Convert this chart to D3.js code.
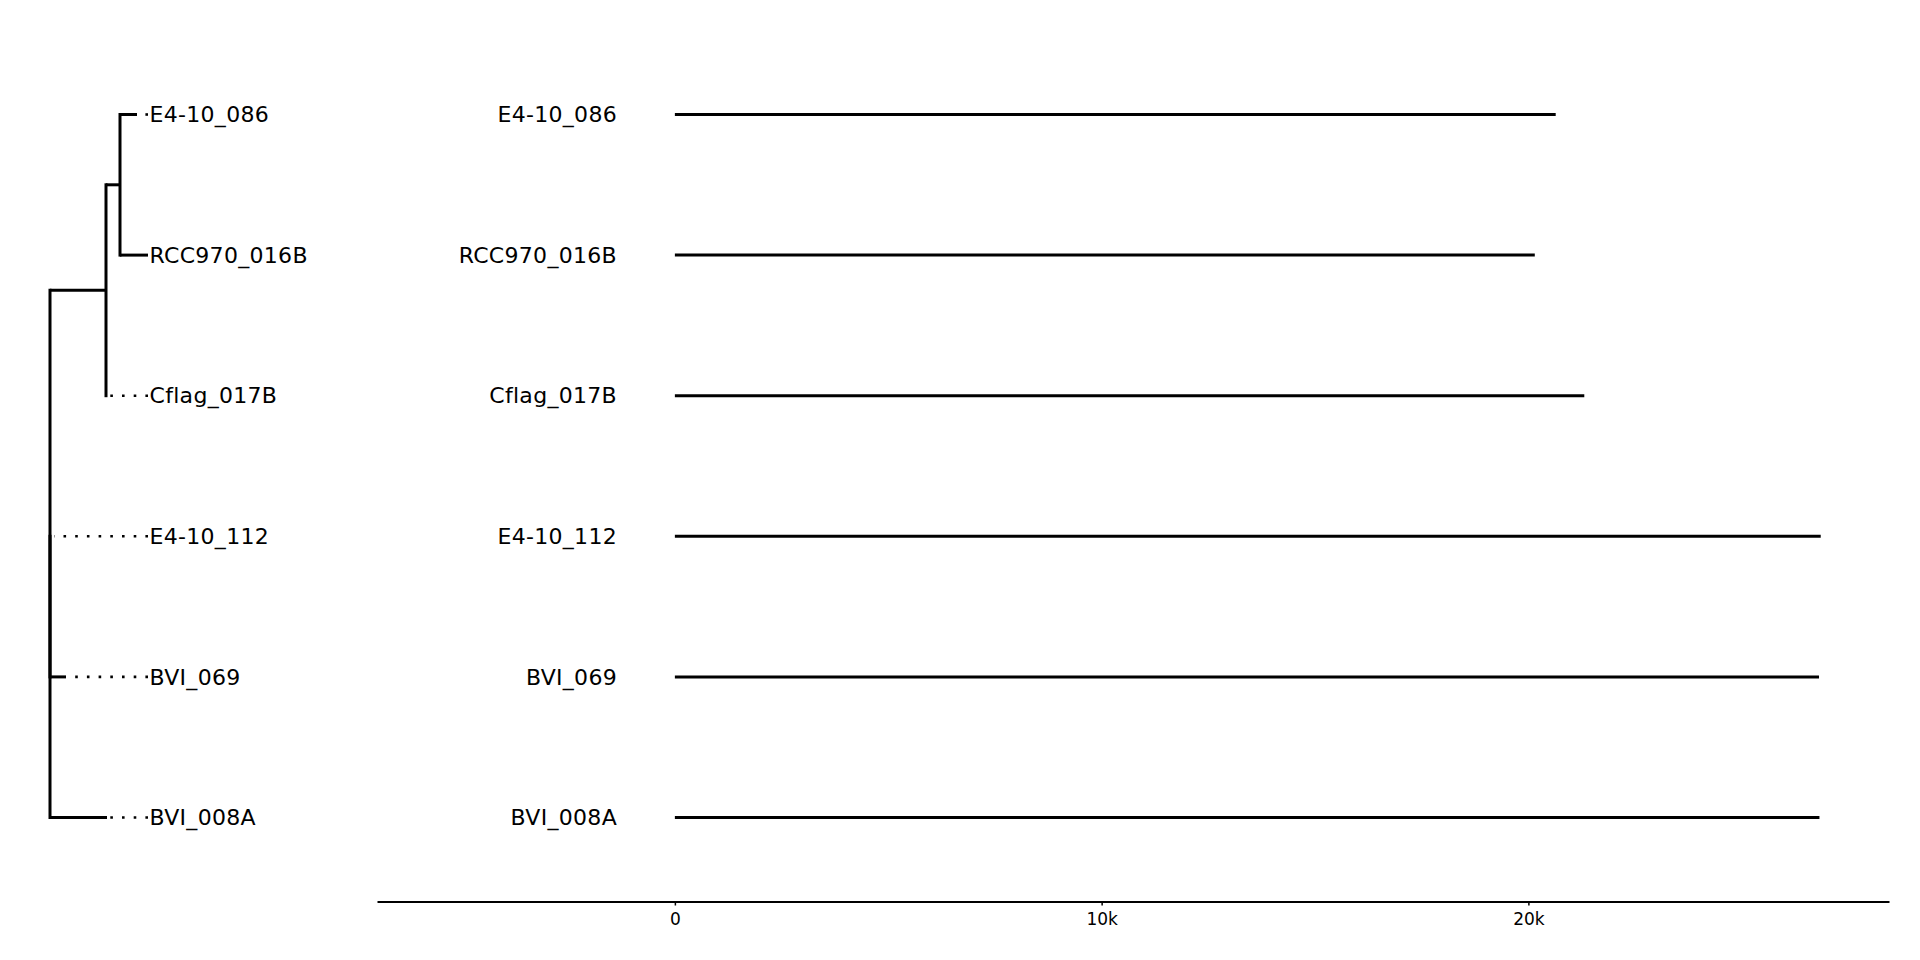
<!DOCTYPE html>
<html>
<head>
<meta charset="utf-8">
<script src="https://cdn.jsdelivr.net/npm/d3@7"></script>
<style>
  html, body { margin: 0; padding: 0; background: #fff; }
  svg { display: block; }
  text { font-family: "DejaVu Sans", sans-serif; fill: #000; }
</style>
</head>
<body>
<svg id="chart" width="1920" height="960"></svg>
<script>
// ---- data ----
const leafNames = ["E4-10_086", "RCC970_016B", "Cflag_017B", "E4-10_112", "BVI_069", "BVI_008A"];
const lengthValues = [20640, 20150, 21310, 26850, 26810, 26820];
const tickValues = [0, 10000, 20000];
const tickLabels = ["0", "10k", "20k"];
const newick = "(((E4-10_086:0.017,RCC970_016B:0.028):0.014,Cflag_017B:0.0):0.056,(E4-10_112:0.001,BVI_069:0.016):0.0,BVI_008A:0.057);";

// ---- newick parser ----
function parseNewick(s) {
  let i = 0;
  function node() {
    const n = { children: [] };
    if (s[i] === "(") {
      i++;
      n.children.push(node());
      while (s[i] === ",") { i++; n.children.push(node()); }
      i++; // ')'
    }
    let name = "";
    while (i < s.length && !",():;".includes(s[i])) name += s[i++];
    n.name = name;
    n.length = 0;
    if (s[i] === ":") {
      i++;
      let num = "";
      while (i < s.length && !",();".includes(s[i])) num += s[i++];
      n.length = +num;
    }
    if (!n.children.length) delete n.children;
    return n;
  }
  return node();
}

const svg = d3.select("#chart");
const root = d3.hierarchy(parseNewick(newick));
root.eachBefore(d => { d.depth_len = d.parent ? d.parent.depth_len + d.data.length : 0; });
const maxDepth = d3.max(root.leaves(), d => d.depth_len);

// ---- scales ----
const yScale = d3.scalePoint().domain(leafNames).range([114.5, 817.5]);
const treeX = d3.scaleLinear().domain([0, maxDepth]).range([50, 148]);
const xScale = d3.scaleLinear().domain([-6980, 28450]).range([377, 1889]);

root.eachAfter(d => {
  if (d.children) d.yy = (d.children[0].yy + d.children[d.children.length - 1].yy) / 2;
  else d.yy = yScale(d.data.name);
  d.xx = treeX(d.depth_len);
});

// ---- tree ----
const gTree = svg.append("g");
const stroke = "#000";
gTree.selectAll("line.v").data(root.descendants().filter(d => d.children)).join("line")
  .attr("x1", d => d.xx).attr("x2", d => d.xx)
  .attr("y1", d => d.children[0].yy).attr("y2", d => d.children[d.children.length - 1].yy)
  .attr("stroke", stroke).attr("stroke-width", 3).attr("stroke-linecap", "square");
gTree.selectAll("line.h").data(root.descendants().filter(d => d.parent)).join("line")
  .attr("x1", d => d.parent.xx).attr("x2", d => d.xx)
  .attr("y1", d => d.yy).attr("y2", d => d.yy)
  .attr("stroke", stroke).attr("stroke-width", 3);
gTree.selectAll("line.d").data(root.leaves().filter(d => d.xx < treeX(maxDepth) - 1)).join("line")
  .attr("x1", treeX(maxDepth)).attr("x2", d => d.xx + 3)
  .attr("y1", d => d.yy).attr("y2", d => d.yy)
  .attr("stroke", stroke).attr("stroke-width", 2.6).attr("stroke-dasharray", "2.6,9.1");
gTree.selectAll("text").data(root.leaves()).join("text")
  .attr("x", treeX(maxDepth) + 1.5).attr("y", d => d.yy).attr("dy", "0.35em")
  .attr("font-size", 22).attr("letter-spacing", 0.3).text(d => d.data.name);

// ---- middle labels ----
svg.append("g").selectAll("text").data(leafNames).join("text")
  .attr("x", 617).attr("y", d => yScale(d)).attr("dy", "0.35em")
  .attr("text-anchor", "end").attr("font-size", 22).attr("letter-spacing", 0.3).text(d => d);

// ---- length lines ----
svg.append("g").selectAll("line").data(leafNames).join("line")
  .attr("x1", xScale(0)).attr("x2", (d, i) => xScale(lengthValues[i]))
  .attr("y1", d => yScale(d)).attr("y2", d => yScale(d))
  .attr("stroke", "#000").attr("stroke-width", 3);

// ---- axis ----
const axis = d3.axisBottom(xScale).tickValues(tickValues)
  .tickFormat((d, i) => tickLabels[i]).tickSizeInner(4).tickSizeOuter(0).tickPadding(7);
const gAxis = svg.append("g").attr("transform", "translate(0,901.5)").call(axis);
gAxis.select(".domain").attr("stroke", "#000").attr("stroke-width", 2);
gAxis.selectAll(".tick line").attr("stroke", "#000").attr("stroke-width", 1.5);
gAxis.selectAll(".tick text").attr("font-size", 17).attr("font-family", "DejaVu Sans").attr("fill", "#000");
</script>
</body>
</html>
